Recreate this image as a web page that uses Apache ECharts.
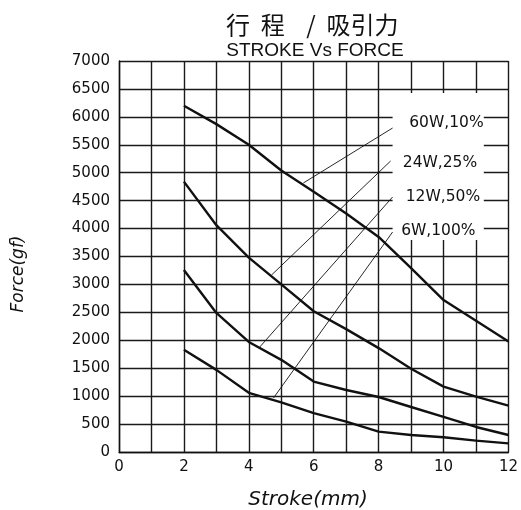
<!DOCTYPE html>
<html><head><meta charset="utf-8">
<script src="https://cdn.jsdelivr.net/npm/echarts@6/dist/echarts.min.js"></script>
<style>html,body{margin:0;padding:0;background:#fff}#c{width:521px;height:510px}</style>
</head><body><div id="c"></div>
<script>
// ---- data ----
const strokes = [2, 3, 4, 5, 6, 7, 8, 9, 10, 11, 12];
const force60W = [6200, 5870, 5500, 5040, 4660, 4270, 3850, 3290, 2720, 2350, 1980];
const force24W = [4840, 4060, 3480, 3000, 2520, 2200, 1860, 1490, 1170, 990, 830];
const force12W = [3260, 2490, 1970, 1650, 1260, 1110, 985, 806, 627, 448, 304];
const force6W  = [1830, 1470, 1060, 890, 695, 543, 364, 304, 263, 203, 155];
const seriesNames = ['60W,10%', '24W,25%', '12W,50%', '6W,100%'];
// label anchor points and leader lines (data coordinates)
const labelAt = [[10.09, 5890], [9.89, 5174], [9.98, 4570], [9.84, 3956]];
const leaderFrom = [[5.68, 4816], [4.70, 3169], [4.31, 1862], [4.76, 967]];
const leaderTo = [[8.43, 5800], [8.37, 5210], [8.43, 4565], [8.43, 3938]];
const labelBox = [[8.43, 6427], [11.24, 3795]];
const xTickLabels = [0, 2, 4, 6, 8, 10, 12];
const yMin = 0, yMax = 7000, yStep = 500;
const xMin = 0, xMax = 12, xStep = 1;
const titleCN = '行  程    /  吸引力';
const titleEN = 'STROKE Vs FORCE';
const xName = 'Stroke(mm)';
const yName = 'Force(gf)';

const curves = [force60W, force24W, force12W, force6W];
const pair = (xs, ys) => xs.map((x, i) => [x, ys[i]]);

const chart = echarts.init(document.getElementById('c'), null, {renderer: 'canvas'});
const TXT = '#111';
const series = [];
curves.forEach((ys, i) => {
  series.push({
    name: seriesNames[i], type: 'line', data: pair(strokes, ys),
    symbol: 'none', z: 3,
    lineStyle: {color: '#111', width: 2.4},
    markArea: i === 0 ? {
      silent: true,
      itemStyle: {color: '#ffffff', borderWidth: 0},
      data: [[{coord: labelBox[0]}, {coord: labelBox[1]}]]
    } : undefined
  });
  series.push({
    type: 'line', data: [leaderFrom[i], leaderTo[i]], symbol: 'none', z: 3,
    lineStyle: {color: '#111', width: 0.9}
  });
});
series.push({
  type: 'scatter', z: 4,
  data: labelAt.map((p, i) => [p[0], p[1], seriesNames[i]]),
  symbolSize: 1, itemStyle: {color: '#ffffff', opacity: 0},
  label: {
    show: true, position: 'inside', formatter: p => p.data[2],
    fontFamily: 'DejaVu Sans', fontSize: 15.5, color: TXT,
    textBorderWidth: 0, opacity: 1
  }
});

chart.setOption({
  animation: false,
  backgroundColor: '#fff',
  grid: {left: 119, right: 9, top: 61, bottom: 58},
  xAxis: {
    type: 'value', min: xMin, max: xMax, interval: xStep,
    axisLine: {lineStyle: {color: '#111', width: 1.4}},
    axisTick: {show: false},
    splitLine: {lineStyle: {color: '#1a1a1a', width: 1.4}},
    axisLabel: {
      margin: 8, fontFamily: 'DejaVu Sans', fontSize: 15, color: TXT,
      formatter: v => xTickLabels.includes(v) ? String(v) : ''
    }
  },
  yAxis: {
    type: 'value', min: yMin, max: yMax, interval: yStep,
    axisLine: {show: true, lineStyle: {color: '#111', width: 1.4}},
    axisTick: {show: false},
    splitLine: {lineStyle: {color: '#1a1a1a', width: 1.4}},
    axisLabel: {margin: 9, fontFamily: 'DejaVu Sans', fontSize: 15, color: TXT, formatter: v => String(v)}
  },
  graphic: [
    {type: 'text', x: 226, y: 25, style: {text: titleCN, font: '24px "Noto Sans CJK SC"', fill: TXT, align: 'left', verticalAlign: 'middle'}},
    {type: 'text', x: 315, y: 51, style: {text: titleEN, font: '19px "Liberation Sans"', fill: TXT, align: 'center', verticalAlign: 'middle'}},
    {type: 'text', x: 308, y: 500, style: {text: xName, font: 'italic 20px "DejaVu Sans"', fill: TXT, align: 'center', verticalAlign: 'middle'}},
    {type: 'text', x: 19, y: 274, rotation: Math.PI / 2, style: {text: yName, font: 'italic 17px "DejaVu Sans"', fill: TXT, align: 'center', verticalAlign: 'middle'}}
  ],
  series: series
});
</script></body></html>
